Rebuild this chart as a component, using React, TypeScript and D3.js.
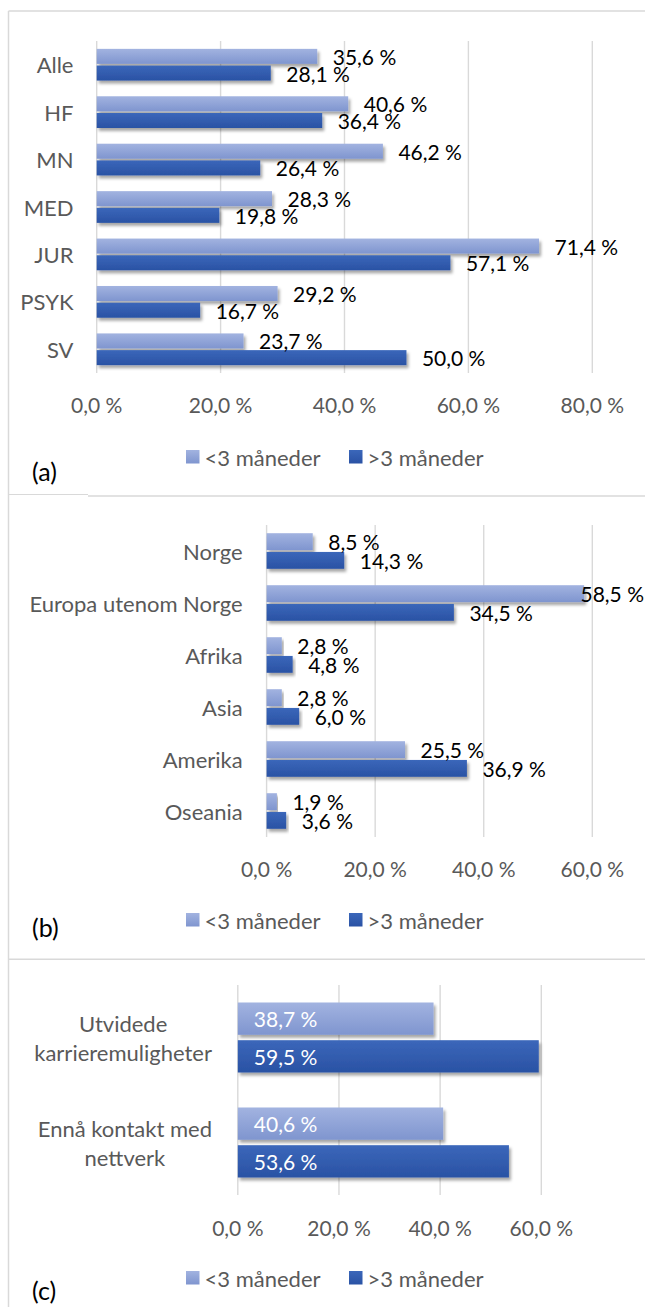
import React from "react";
import * as d3 from "d3";

// ---------- data ----------
const seriesNames = ["<3 måneder", ">3 måneder"];

const catsA = ["Alle", "HF", "MN", "MED", "JUR", "PSYK", "SV"];
const shortA = [35.6, 40.6, 46.2, 28.3, 71.4, 29.2, 23.7];
const longA = [28.1, 36.4, 26.4, 19.8, 57.1, 16.7, 50.0];
const ticksA = [0, 20, 40, 60, 80];

const catsB = ["Norge", "Europa utenom Norge", "Afrika", "Asia", "Amerika", "Oseania"];
const shortB = [8.5, 58.5, 2.8, 2.8, 25.5, 1.9];
const longB = [14.3, 34.5, 4.8, 6.0, 36.9, 3.6];
const ticksB = [0, 20, 40, 60];

const catsC = [["Utvidede", "karrieremuligheter"], ["Ennå kontakt med", "nettverk"]];
const shortC = [38.7, 40.6];
const longC = [59.5, 53.6];
const ticksC = [0, 20, 40, 60];

// ---------- layout ----------
const W = 645;
const H = 1307;
const FONT = "Lato, 'Open Sans', sans-serif";
const GRAY = "#595959";
const GRID = "#d9d9d9";
const FS_LABEL = 21;
const FS_CAT = 22;

let _ctx: CanvasRenderingContext2D | null = null;
function textW(s: string, size: number) {
  if (!_ctx) _ctx = document.createElement("canvas").getContext("2d");
  if (!_ctx) return s.length * size * 0.5;
  _ctx.font = `${size}px Lato`;
  return _ctx.measureText(s).width;
}

const fmt = (v: number) => d3.format(".1f")(v).replace(".", ",") + " %";

type Panel = {
  cats: string[][];
  short: number[];
  long: number[];
  ticks: number[];
  x0: number;
  x1: number;
  yTop: number;
  yBot: number;
  pad: number;
  inner: number;
  catRight: number;
  tickY: number;
  legendY: number;
  letter: string;
  letterY: number;
  inside: boolean;
};

const panels: Panel[] = [
  {
    cats: catsA.map((c) => [c]), short: shortA, long: longA, ticks: ticksA,
    x0: 96.7, x1: 592.3, yTop: 41, yBot: 373, pad: 7.85, inner: 0.1,
    catRight: 73.5, tickY: 404, legendY: 457, letter: "(a)", letterY: 471, inside: false,
  },
  {
    cats: catsB.map((c) => [c]), short: shortB, long: longB, ticks: ticksB,
    x0: 266.6, x1: 592.3, yTop: 525, yBot: 837, pad: 8.2, inner: 0.1,
    catRight: 242.7, tickY: 868, legendY: 920, letter: "(b)", letterY: 927, inside: false,
  },
  {
    cats: catsC, short: shortC, long: longC, ticks: ticksC,
    x0: 237.8, x1: 541.3, yTop: 985, yBot: 1195, pad: 17.5, inner: 0.143,
    catRight: 212, tickY: 1227, legendY: 1278, letter: "(c)", letterY: 1290, inside: true,
  },
];

function PanelView({ p }: { p: Panel }) {
  const maxT = p.ticks[p.ticks.length - 1];
  const x = d3.scaleLinear().domain([0, maxT]).range([p.x0, p.x1]);
  const keys = p.cats.map((_, i) => String(i));
  const y = d3.scaleBand<string>().domain(keys).range([p.yTop, p.yBot]).padding(0);
  const ys = d3
    .scaleBand<string>()
    .domain(["0", "1"])
    .range([p.pad, y.bandwidth() - p.pad])
    .paddingInner(p.inner)
    .paddingOuter(0);
  const series = [p.short, p.long];
  const fills = ["url(#gLight)", "url(#gDark)"];

  return (
    <g>
      {p.ticks.map((t) => (
        <line key={"g" + t} x1={x(t)} x2={x(t)} y1={p.yTop} y2={p.yBot} stroke={GRID} strokeWidth={1.4} />
      ))}
      {series.map((vals, si) =>
        vals.map((v, ci) => {
          const yy = (y(String(ci)) as number) + (ys(String(si)) as number);
          return (
            <rect
              key={`b${si}-${ci}`}
              x={x(0)}
              y={yy}
              width={x(v) - x(0)}
              height={ys.bandwidth()}
              fill={fills[si]}
              filter="url(#shadow)"
            />
          );
        })
      )}
      {series.map((vals, si) =>
        vals.map((v, ci) => {
          const yy = (y(String(ci)) as number) + (ys(String(si)) as number) + ys.bandwidth() / 2;
          const s = fmt(v);
          let lx: number;
          if (p.inside) lx = x(0) + 16;
          else {
            lx = x(v) + 15.5;
            const w = textW(s, FS_LABEL);
            if (lx + w > 644) lx = 644 - w;
          }
          return (
            <text
              key={`l${si}-${ci}`}
              x={lx}
              y={yy}
              dominantBaseline="central"
              fontSize={FS_LABEL}
              fill={p.inside ? "#ffffff" : "#000000"}
            >
              {s}
            </text>
          );
        })
      )}
      {p.cats.map((lines, ci) => {
        const cy = (y(String(ci)) as number) + y.bandwidth() / 2;
        const lh = 29;
        const maxW = Math.max(...lines.map((l) => textW(l, FS_CAT)));
        const cx = p.catRight - maxW / 2;
        return (
          <g key={"c" + ci}>
            {lines.map((l, li) => (
              <text
                key={li}
                x={lines.length > 1 ? cx : p.catRight}
                y={cy + (li - (lines.length - 1) / 2) * lh}
                textAnchor={lines.length > 1 ? "middle" : "end"}
                dominantBaseline="central"
                fontSize={FS_CAT}
                fill={GRAY}
              >
                {l}
              </text>
            ))}
          </g>
        );
      })}
      {p.ticks.map((t) => (
        <text
          key={"t" + t}
          x={x(t)}
          y={p.tickY}
          textAnchor="middle"
          dominantBaseline="central"
          fontSize={FS_LABEL}
          fill={GRAY}
        >
          {fmt(t)}
        </text>
      ))}
      {seriesNames.map((n, si) => {
        const lx = 186 + si * 163;
        return (
          <g key={"lg" + si}>
            <rect x={lx} y={p.legendY - 7} width={13.5} height={13.5} fill={fills[si]} />
            <text x={lx + 18.5} y={p.legendY} dominantBaseline="central" fontSize={FS_CAT} fill={GRAY}>
              {n}
            </text>
          </g>
        );
      })}
      <text x={32} y={p.letterY} dominantBaseline="central" fontSize={25} fill="#000">
        {p.letter}
      </text>
    </g>
  );
}

export default function App() {
  return (
    <svg
      width={W}
      height={H}
      viewBox={`0 0 ${W} ${H}`}
      style={{ position: "absolute", left: 0, top: 0, background: "#fff", fontFamily: FONT }}
    >
      <defs>
        <linearGradient id="gLight" x1="0" y1="0" x2="0" y2="1">
          <stop offset="0%" stopColor="#a2b3e0" />
          <stop offset="100%" stopColor="#7f95cf" />
        </linearGradient>
        <linearGradient id="gDark" x1="0" y1="0" x2="0" y2="1">
          <stop offset="0%" stopColor="#3b67ba" />
          <stop offset="100%" stopColor="#2a52a4" />
        </linearGradient>
        <filter id="shadow" x="-5%" y="-20%" width="115%" height="160%">
          <feDropShadow dx="2" dy="3" stdDeviation="1.5" floodColor="#000" floodOpacity="0.35" />
        </filter>
      </defs>
      <rect x={0} y={0} width={W} height={H} fill="#fff" />
      <line x1={8.5} x2={W} y1={11} y2={11} stroke={GRID} strokeWidth={1.5} />
      <line x1={8.5} x2={8.5} y1={11} y2={H} stroke={GRID} strokeWidth={1.5} />
      <line x1={8.5} x2={88} y1={494.5} y2={494.5} stroke={GRID} strokeWidth={1.2} />
      <line x1={88} x2={W} y1={496} y2={496} stroke={GRID} strokeWidth={1.5} />
      <line x1={8.5} x2={W} y1={959.3} y2={959.3} stroke={GRID} strokeWidth={1.5} />
      {panels.map((p, i) => (
        <PanelView key={i} p={p} />
      ))}
    </svg>
  );
}
